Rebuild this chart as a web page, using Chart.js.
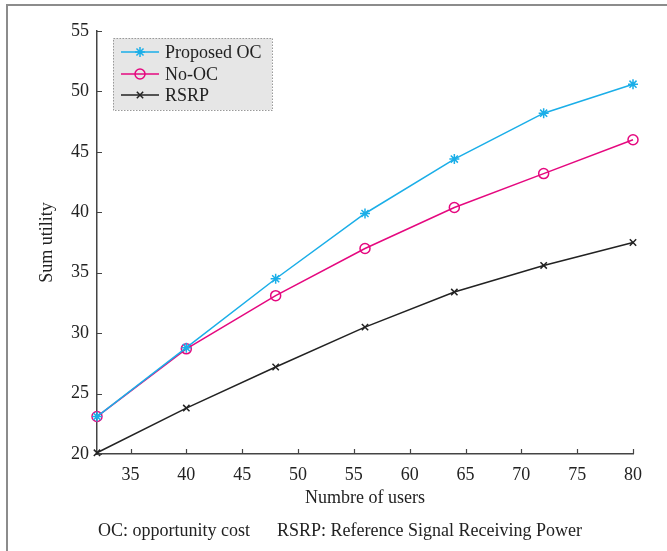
<!DOCTYPE html>
<html>
<head>
<meta charset="utf-8">
<script src="https://cdn.jsdelivr.net/npm/chart.js@4/dist/chart.umd.min.js"></script>
<style>
  html, body { margin: 0; padding: 0; background: #fff; }
  #wrap { width: 667px; height: 551px; }
</style>
</head>
<body>
<div id="wrap"><canvas id="chart" width="667" height="551"></canvas></div>
<script>
  // data
  var users = [32, 40, 48, 56, 64, 72, 80]
  var proposedOC = [23.1, 28.8, 34.5, 39.9, 44.4, 48.2, 50.6]
  var noOC = [23.1, 28.7, 33.1, 37.0, 40.4, 43.2, 46.0]
  var rsrp = [20.1, 23.8, 27.2, 30.5, 33.4, 35.6, 37.5]
  var xTicks = [35, 40, 45, 50, 55, 60, 65, 70, 75, 80]
  var yTicks = [20, 25, 30, 35, 40, 45, 50, 55]
  var seriesNames = ['Proposed OC', 'No-OC', 'RSRP']

  var serif = '"Liberation Serif", "DejaVu Serif", serif'

  function pts(ys) {
    var out = []
    for (var i = 0; i < users.length; i++) out.push({ x: users[i], y: ys[i] })
    return out
  }

  var extras = {
    id: 'extras',
    beforeDraw: function(chart) {
      var ctx = chart.ctx
      ctx.save()
      ctx.fillStyle = '#fff'
      ctx.fillRect(0, 0, chart.width, chart.height)
      // figure frame (top and left only)
      ctx.strokeStyle = '#8c8c8c'
      ctx.lineWidth = 2
      ctx.beginPath()
      ctx.moveTo(667, 5)
      ctx.lineTo(7, 5)
      ctx.lineTo(7, 551)
      ctx.stroke()
      ctx.restore()
    },
    afterDraw: function(chart) {
      var ctx = chart.ctx
      var xs = chart.scales.x, ys = chart.scales.y
      var area = chart.chartArea
      ctx.save()
      // inward tick marks
      ctx.strokeStyle = '#444'
      ctx.lineWidth = 1.2
      ctx.beginPath()
      yTicks.forEach(function(v) {
        var y = Math.round(ys.getPixelForValue(v)) + 0.5
        ctx.moveTo(area.left, y); ctx.lineTo(area.left + 5, y)
      })
      xTicks.forEach(function(v) {
        var x = Math.round(xs.getPixelForValue(v)) + 0.5
        ctx.moveTo(x, area.bottom); ctx.lineTo(x, area.bottom - 5)
      })
      ctx.stroke()

      // axis titles and caption
      ctx.fillStyle = '#222'
      ctx.textAlign = 'center'
      ctx.textBaseline = 'middle'
      ctx.font = '18px ' + serif
      ctx.fillText('Numbre of users', (area.left + area.right) / 2, 498)
      ctx.fillText('OC: opportunity cost      RSRP: Reference Signal Receiving Power', 340, 531)
      ctx.save()
      ctx.translate(47, (area.top + area.bottom) / 2)
      ctx.rotate(-Math.PI / 2)
      ctx.fillText('Sum utility', 0, 0)
      ctx.restore()

      // legend box inside the plot
      var bx = 113, by = 38, bw = 159, bh = 72
      ctx.fillStyle = '#e6e6e6'
      ctx.fillRect(bx, by, bw, bh)
      ctx.setLineDash([1.5, 1.5])
      ctx.strokeStyle = '#999'
      ctx.lineWidth = 1
      ctx.strokeRect(bx + 0.5, by + 0.5, bw, bh)
      ctx.setLineDash([])
      var rows = [52, 74, 95]
      chart.data.datasets.forEach(function(ds, i) {
        var y = rows[i]
        ctx.strokeStyle = ds.borderColor
        ctx.lineWidth = 1.5
        ctx.beginPath()
        ctx.moveTo(121, y); ctx.lineTo(159, y)
        ctx.stroke()
        ctx.fillStyle = 'rgba(0,0,0,0)'
        Chart.helpers.drawPoint(ctx, {
          pointStyle: ds.pointStyle, radius: ds.pointRadius, borderWidth: 1.5, rotation: 0
        }, 140, y)
        ctx.fillStyle = '#222'
        ctx.textAlign = 'left'
        ctx.font = '18px ' + serif
        ctx.fillText(ds.label, 165, y + 1)
      })
      ctx.restore()
    }
  }

  function series(label, ys, color, style, r) {
    return {
      label: label,
      data: pts(ys),
      borderColor: color,
      backgroundColor: 'rgba(0,0,0,0)',
      pointBorderColor: color,
      pointBackgroundColor: 'rgba(0,0,0,0)',
      pointStyle: style,
      pointRadius: r,
      pointBorderWidth: 1.5,
      borderWidth: 1.5,
      tension: 0,
      clip: false
    }
  }

  var ctx = document.getElementById('chart').getContext('2d')
  var chart = new Chart(ctx, {
    type: 'line',
    data: {
      datasets: [
        series(seriesNames[0], proposedOC, '#1aaee8', 'star', 5),
        series(seriesNames[1], noOC, '#e5087f', 'circle', 5),
        series(seriesNames[2], rsrp, '#222', 'crossRot', 4.5)
      ]
    },
    options: {
      responsive: false,
      animation: false,
      layout: { padding: { left: 0, top: 31, right: 34, bottom: 0 } },
      plugins: { legend: { display: false }, tooltip: { enabled: false } },
      scales: {
        x: {
          type: 'linear',
          min: 32,
          max: 80,
          afterBuildTicks: function(scale) {
            scale.ticks = xTicks.map(function(v) { return { value: v } })
          },
          afterFit: function(scale) { scale.height = 97 },
          grid: { display: true, drawOnChartArea: false, drawTicks: false },
          border: { display: true, color: '#444', width: 1.5 },
          ticks: { color: '#222', font: { family: serif, size: 18 }, padding: 10, maxRotation: 0 }
        },
        y: {
          min: 20,
          max: 55,
          afterBuildTicks: function(scale) {
            scale.ticks = yTicks.map(function(v) { return { value: v } })
          },
          afterFit: function(scale) { scale.width = 97 },
          grid: { display: true, drawOnChartArea: false, drawTicks: false },
          border: { display: true, color: '#444', width: 1.5 },
          ticks: { color: '#222', font: { family: serif, size: 18 }, padding: 8 }
        }
      }
    },
    plugins: [extras]
  })
</script>
</body>
</html>
